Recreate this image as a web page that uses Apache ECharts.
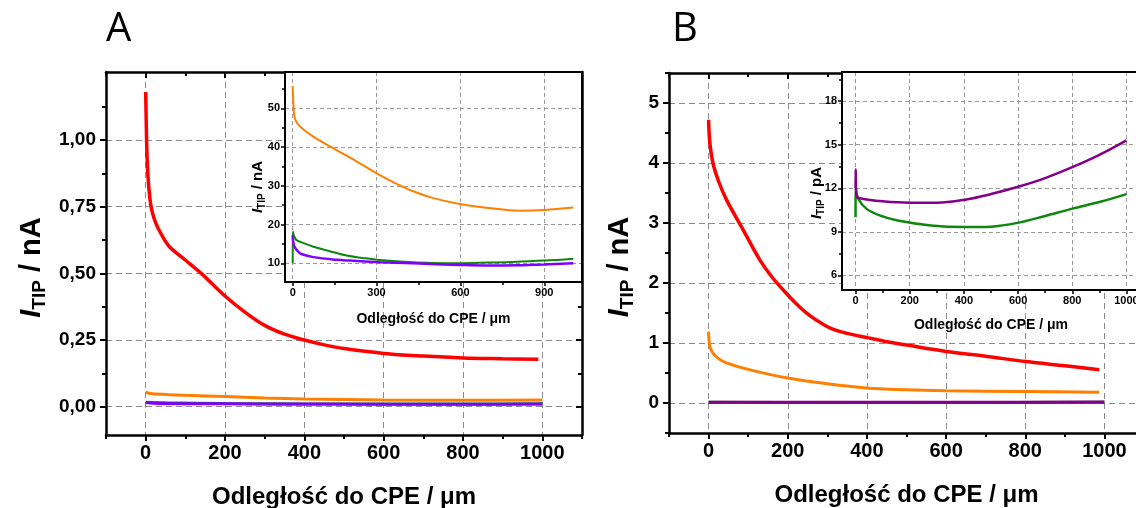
<!DOCTYPE html>
<html><head><meta charset="utf-8">
<script src="https://cdn.jsdelivr.net/npm/echarts@6/dist/echarts.min.js"></script>
<style>html,body{margin:0;padding:0;background:#fff}#c{width:1136px;height:508px}</style>
</head><body><div id="c"></div><script>
// ---------------- DATA ----------------
// Panel A, main plot (nA)
const aRedX = [0,1,3,6,10,15,25,40,60,100,140,200,250,300,350,400,450,500,600,700,800,900,990];
const aRedY = [1.18,1.10,0.96,0.86,0.79,0.74,0.69,0.645,0.60,0.55,0.50,0.415,0.355,0.305,0.272,0.25,0.232,0.218,0.20,0.19,0.183,0.18,0.178];
const aOrangeX = [0,10,50,100,200,300,400,500,600,800,1000];
const aOrangeY = [0.056,0.05,0.046,0.043,0.038,0.033,0.029,0.027,0.025,0.024,0.025];
const aGreenX = [0,50,200,400,600,800,1000];
const aGreenY = [0.017,0.015,0.012,0.0102,0.010,0.0105,0.011];
const aPurpleX = [0,20,100,300,600,800,1000];
const aPurpleY = [0.016,0.013,0.0115,0.0104,0.0095,0.0095,0.010];
// Panel A, inset
const iaOrangeX = [0,2,5,10,20,40,74,130,193,250,312,370,431,500,598,700,813,900,1004];
const iaOrangeY = [55.8,52,48.5,47,45.8,44.5,42.7,40.3,37.8,35.4,32.8,30.6,28.6,26.9,25.3,24.3,23.6,23.8,24.4];
const iaGreenX = [0,0.5,5,14,40,74,130,193,250,312,431,500,598,700,787,900,1004];
const iaGreenY = [10,18.2,17,16,15.2,14.3,13.2,12.0,11.4,10.86,10.25,10.1,10.05,10.2,10.35,10.7,11.2];
const iaPurpleX = [0,5,20,31,74,157,205,312,431,598,700,800,900,1004];
const iaPurpleY = [17.3,14.5,13.0,12.4,11.6,10.9,10.7,10.3,10.0,9.6,9.45,9.5,9.7,10.0];
// Panel B, main plot (nA)
const bRedX = [0,3,11,25,45,87,129,160,196,230,255,285,314,350,400,450,500,600,700,802,900,987];
const bRedY = [4.72,4.35,4.0,3.7,3.39,2.89,2.39,2.1,1.83,1.6,1.46,1.33,1.23,1.16,1.09,1.02,0.965,0.86,0.78,0.69,0.62,0.555];
const bOrangeX = [0,3,11,25,45,100,196,300,398,500,600,800,987];
const bOrangeY = [1.19,0.95,0.83,0.74,0.67,0.56,0.42,0.32,0.25,0.22,0.205,0.19,0.18];
const bGreenX = [0,300,600,1000];
const bGreenY = [0.011,0.0095,0.0096,0.0116];
const bPurpleX = [0,300,600,1000];
const bPurpleY = [0.013,0.011,0.012,0.0153];
// Panel B, inset (pA)
const ibPurpleX = [0,0.5,3,20,100,200,300,400,500,600,700,800,900,1000];
const ibPurpleY = [12.0,13.3,11.5,11.3,11.1,11.0,11.0,11.2,11.6,12.1,12.7,13.45,14.3,15.3];
const ibGreenX = [0,0.5,10,40,89,155,278,401,500,598,697,801,900,1000];
const ibGreenY = [10,12.0,11.28,10.6,10.13,9.78,9.44,9.33,9.36,9.62,10.08,10.6,11.05,11.6];

// Tick values
const mainXMajor = [0,200,400,600,800,1000];
const mainXMinor = [-100,100,300,500,700,900,1100];
const aYMajor = [0,0.25,0.5,0.75,1.0];
const aYMinor = [0.125,0.375,0.625,0.875,1.125];
const bYMajor = [0,1,2,3,4,5];
const bYMinor = [-0.5,0.5,1.5,2.5,3.5,4.5,5.5];
const iaXMajor = [0,300,600,900];
const iaXMinor = [150,450,750];
const iaYMajor = [10,20,30,40,50];
const iaYMinor = [15,25,35,45,55];
const ibXMajor = [0,200,400,600,800,1000];
const ibXMinor = [100,300,500,700,900];
const ibYMajor = [6,9,12,15,18];
const ibYMinor = [7.5,10.5,13.5,16.5,19.5];

// Texts
const xTitle = 'Odległość do CPE / μm';
const yTitleA = '{i|I}{s|TIP}{n| / nA}';
const yTitleB = '{i|I}{s|TIP}{n| / nA}';
const yTitleIA = '{i|I}{s|TIP}{n| / nA}';
const yTitleIB = '{i|I}{s|TIP}{n| / pA}';

// ---------------- BUILD ----------------
const zip = (xs, ys) => xs.map((x, i) => [x, ys[i]]);
const FONT = 'Liberation Sans';
const RED = '#ff0000', ORANGE = '#ff8000', GREEN = '#0f870f', VIOLET = '#7f00ff', PURPLE = '#84008a';

function richName(size, shift) {
  return {
    fontFamily: FONT, fontWeight: 'bold', color: '#000',
    padding: [0, shift * 2, 0, 0],
    rich: {
      i: {fontFamily: FONT, fontWeight: 'bold', fontStyle: 'italic', fontSize: size, verticalAlign: 'bottom', lineHeight: size * 1.2},
      s: {fontFamily: FONT, fontWeight: 'bold', fontSize: Math.round(size * 0.65), verticalAlign: 'bottom', lineHeight: size * 1.2, padding: [0, 0, -size*0.12, 0]},
      n: {fontFamily: FONT, fontWeight: 'bold', fontSize: size, verticalAlign: 'bottom', lineHeight: size * 1.2}
    }
  };
}

const xAxes = [], yAxes = [];
function axisGroup(list, o) {
  const idx = list.length;
  const base = {type: 'value', gridIndex: o.g, min: o.min, max: o.max, z: o.z || 0};
  list.push(Object.assign({}, base, {
    position: o.pos,
    name: o.name || '', nameLocation: 'middle', nameGap: o.nameGap || 0, nameMoveOverlap: false,
    nameTextStyle: o.nameStyle || {},
    axisLine: {show: true, onZero: false, lineStyle: {color: '#000', width: o.lw}},
    axisTick: {show: true, customValues: o.major, inside: false, length: o.majLen, lineStyle: {color: '#000', width: o.tw}},
    axisLabel: {show: o.labels !== false, customValues: o.major, margin: o.margin, fontFamily: FONT, fontWeight: 'bold', fontSize: o.fs, color: '#000', formatter: o.fmt || (v => String(v))},
    splitLine: {show: true, lineStyle: {type: o.dash, color: o.gridColor, width: 1}}
  }));
  list.push(Object.assign({}, base, {
    position: o.pos,
    axisLine: {show: false, onZero: false},
    axisTick: {show: true, customValues: o.minor, inside: false, length: o.minLen, lineStyle: {color: '#000', width: o.tw}},
    axisLabel: {show: false}, splitLine: {show: false}
  }));
  if (o.mirror) {
    list.push(Object.assign({}, base, {
      position: o.mirror,
      axisLine: {show: true, onZero: false, lineStyle: {color: '#000', width: o.lw}},
      axisTick: {show: o.mirrorTicks !== false, customValues: o.major, inside: true, length: o.majLen, lineStyle: {color: '#000', width: o.tw}},
      axisLabel: {show: false}, splitLine: {show: false}
    }));
    list.push(Object.assign({}, base, {
      position: o.mirror,
      axisLine: {show: false, onZero: false},
      axisTick: {show: o.mirrorTicks !== false, customValues: o.minor, inside: true, length: o.minLen, lineStyle: {color: '#000', width: o.tw}},
      axisLabel: {show: false}, splitLine: {show: false}
    }));
  }
  return idx;
}

const grids = [
  {left: 106, top: 72, width: 476, height: 363, show: false, outerBoundsMode: 'none'},
  {left: 285, top: 72, width: 297, height: 210, show: true, backgroundColor: '#fff', borderWidth: 0, z: 5, outerBoundsMode: 'none'},
  {left: 669, top: 73, width: 475, height: 360, show: false, outerBoundsMode: 'none'},
  {left: 842, top: 72, width: 298, height: 218, show: true, backgroundColor: '#fff', borderWidth: 0, z: 5, outerBoundsMode: 'none'}
];

const mainStyle = {lw: 2.5, tw: 2, majLen: 6, minLen: 4, fs: 19, dash: [6, 4], gridColor: '#8a8a8a'};
const insetStyle = {lw: 2, tw: 1.5, majLen: 4, minLen: 3, fs: 11, dash: [4, 3], gridColor: '#9a9a9a', z: 6};
const mainXName = {fontFamily: FONT, fontWeight: 'bold', fontSize: 24, color: '#000'};
const insetXName = {fontFamily: FONT, fontWeight: 'bold', fontSize: 14, color: '#000'};

// Panel A main
const xA = axisGroup(xAxes, Object.assign({}, mainStyle, {g: 0, min: -100, max: 1100, pos: 'bottom', mirror: 'top', major: mainXMajor, minor: mainXMinor, margin: 8, fs: 20,
  name: xTitle, nameGap: 50, nameStyle: mainXName}));
const yA = axisGroup(yAxes, Object.assign({}, mainStyle, {g: 0, min: -0.106, max: 1.255, pos: 'left', mirror: 'right', major: aYMajor, minor: aYMinor, margin: 10,
  fmt: v => v.toFixed(2).replace('.', ','), name: yTitleA, nameGap: 60, nameStyle: richName(29, 14)}));
// Panel A inset
const xIA = axisGroup(xAxes, Object.assign({}, insetStyle, {g: 1, min: -27.5, max: 1035, pos: 'bottom', mirror: 'top', mirrorTicks: false, major: iaXMajor, minor: iaXMinor, margin: 5,
  name: xTitle, nameGap: 30, nameStyle: insetXName}));
const yIA = axisGroup(yAxes, Object.assign({}, insetStyle, {g: 1, min: 5.18, max: 59.4, pos: 'left', mirror: 'right', mirrorTicks: false, major: iaYMajor, minor: iaYMinor, margin: 5,
  name: yTitleIA, nameGap: 20, nameStyle: richName(15, 10)}));
// Panel B main
const xB = axisGroup(xAxes, Object.assign({}, mainStyle, {g: 2, min: -100, max: 1100, pos: 'bottom', mirror: 'top', major: mainXMajor, minor: mainXMinor, margin: 8, fs: 20,
  name: xTitle, nameGap: 50, nameStyle: mainXName}));
const yB = axisGroup(yAxes, Object.assign({}, mainStyle, {g: 2, min: -0.5, max: 5.5, pos: 'left', mirror: 'right', major: bYMajor, minor: bYMinor, margin: 10,
  name: yTitleB, nameGap: 35, nameStyle: richName(29, 14)}));
// Panel B inset
const xIB = axisGroup(xAxes, Object.assign({}, insetStyle, {g: 3, min: -50, max: 1050, pos: 'bottom', mirror: 'top', mirrorTicks: false, major: ibXMajor, minor: ibXMinor, margin: 5,
  name: xTitle, nameGap: 28, nameStyle: insetXName}));
const yIB = axisGroup(yAxes, Object.assign({}, insetStyle, {g: 3, min: 5, max: 20, pos: 'left', mirror: 'right', mirrorTicks: false, major: ibYMajor, minor: ibYMinor, margin: 5,
  name: yTitleIB, nameGap: 18, nameStyle: richName(15, 12)}));

function line(xi, yi, xs, ys, color, width, z) {
  return {type: 'line', xAxisIndex: xi, yAxisIndex: yi, data: zip(xs, ys), showSymbol: false, symbol: 'none',
    smooth: 0.35, lineStyle: {color: color, width: width}, z: z, silent: true, animation: false};
}

const series = [
  line(xA, yA, aGreenX, aGreenY, GREEN, 3, 2),
  line(xA, yA, aPurpleX, aPurpleY, VIOLET, 3, 2),
  line(xA, yA, aOrangeX, aOrangeY, ORANGE, 3, 2),
  line(xA, yA, aRedX, aRedY, RED, 3.5, 2),
  line(xIA, yIA, iaOrangeX, iaOrangeY, ORANGE, 2, 8),
  line(xIA, yIA, iaGreenX, iaGreenY, GREEN, 2, 8),
  line(xIA, yIA, iaPurpleX, iaPurpleY, VIOLET, 2.5, 8),
  line(xB, yB, bGreenX, bGreenY, GREEN, 3, 2),
  line(xB, yB, bPurpleX, bPurpleY, PURPLE, 3, 2),
  line(xB, yB, bOrangeX, bOrangeY, ORANGE, 3, 2),
  line(xB, yB, bRedX, bRedY, RED, 3.5, 2),
  line(xIB, yIB, ibGreenX, ibGreenY, GREEN, 2.5, 8),
  line(xIB, yIB, ibPurpleX, ibPurpleY, PURPLE, 2.5, 8)
];

const chart = echarts.init(document.getElementById('c'), null, {renderer: 'canvas'});
chart.setOption({
  animation: false,
  backgroundColor: '#fff',
  title: [
    {text: 'A', left: 101, top: 5, textStyle: {fontFamily: 'Open Sans', fontWeight: 'normal', fontSize: 40, color: '#000'}},
    {text: 'B', left: 667, top: 5, textStyle: {fontFamily: 'Open Sans', fontWeight: 'normal', fontSize: 40, color: '#000'}}
  ],
  grid: grids,
  xAxis: xAxes,
  yAxis: yAxes,
  series: series
});
</script></body></html>
